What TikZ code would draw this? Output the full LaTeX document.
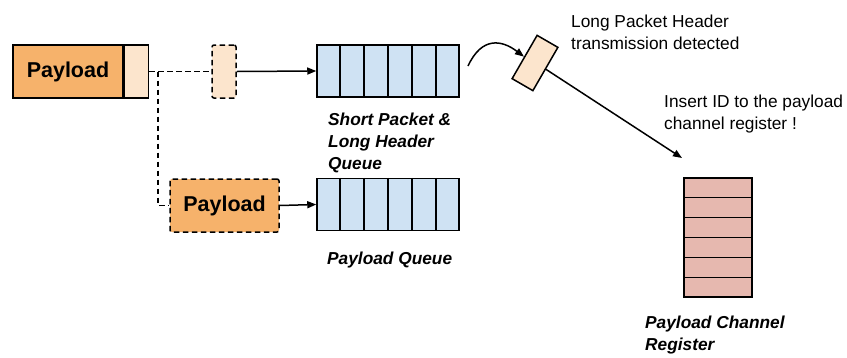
\documentclass[tikz,border=0pt]{standalone}
\usepackage{fontspec}
\setmainfont{Liberation Sans}
\usetikzlibrary{arrows.meta,calc}

\definecolor{payorange}{HTML}{F6B26B}
\definecolor{paylight}{HTML}{FCE5CD}
\definecolor{queueblue}{HTML}{CFE2F3}
\definecolor{regpink}{HTML}{E6B8AF}

\tikzset{
  box/.style={draw=black,line width=1.5pt,inner sep=0pt},
  dashbox/.style={box,dash pattern=on 5.5pt off 3.5pt,rounded corners=2pt},
  queue/.style={box,fill=queueblue,minimum width=142pt,minimum height=52pt},
  arr/.style={line width=1.5pt,-{Triangle[length=9pt,width=7pt]}},
  dashline/.style={line width=1.5pt,dash pattern=on 5.5pt off 3.5pt},
  note/.style={anchor=base west,inner sep=0pt,align=left,font=\fontsize{17.3}{22}\selectfont},
  title/.style={note,font=\fontsize{17.3}{22}\selectfont\bfseries\itshape}
}

\begin{document}
\begin{tikzpicture}[x=1pt,y=-1pt]
  \useasboundingbox (0,0) rectangle (847,357);

  % incoming packet
  \node[box,fill=payorange,minimum width=110pt,minimum height=53pt,
        font=\fontsize{21.5}{24}\selectfont\bfseries] (pay) at (68,71.5) {Payload};
  \node[box,fill=paylight,minimum width=24pt,minimum height=53pt,anchor=west] (tail) at (pay.east) {};

  % split into header and payload
  \node[dashbox,fill=paylight,minimum width=24pt,minimum height=53pt] (hdr) at (224,71.5) {};
  \node[dashbox,fill=payorange,minimum width=109pt,minimum height=53pt,
        font=\fontsize{21.5}{24}\selectfont\bfseries] (pay2) at (224.5,205.5) {Payload};
  \coordinate (split) at (158,71.5);
  \draw[dashline] (tail.east) -- (hdr.west);
  \draw[dashline] (split) |- (pay2.west);

  % queues
  \node[queue] (shortq) at (388,71) {};
  \node[queue] (payq) at (388,204.5) {};
  \foreach \q in {shortq,payq}
    \foreach \i in {1,...,5}
      \draw[line width=1.5pt] ($(\q.north west)!\i/6!(\q.north east)$) -- ($(\q.south west)!\i/6!(\q.south east)$);
  \draw[arr] (hdr.east) -- (shortq.west);
  \draw[arr] (pay2.east) -- (payq.west);

  % base of the last line
  \node[title] (shortlbl) at (328,169) {Short Packet \&\\Long Header\\Queue};
  \node[title] (paylbl) at (327,264) {Payload Queue};

  % header detection
  \node[box,fill=paylight,minimum width=50pt,minimum height=24pt,rotate=60] (det) at (535,63) {};
  \coordinate (out) at (468,66);
  \draw[arr] (out) .. controls (482,36) and (502,40) .. (det.north);
  \node[note] (detlbl) at (571,49.7) {Long Packet Header\\transmission detected};

  % payload channel register
  \node[box,fill=regpink,minimum width=68pt,minimum height=119pt] (pcr) at (718,237.5) {};
  \foreach \i in {1,...,5}
    \draw[line width=1.5pt] ($(pcr.north west)!\i/6!(pcr.south west)$) -- ($(pcr.north east)!\i/6!(pcr.south east)$);
  \coordinate (ins) at (682,158);
  \draw[arr] (det.south) -- (ins);
  \node[note] (inslbl) at (664,129.5) {Insert ID to the payload\\channel register !};
  \node[title] (pcrlbl) at (645,350) {Payload Channel\\Register};
\end{tikzpicture}
\end{document}
